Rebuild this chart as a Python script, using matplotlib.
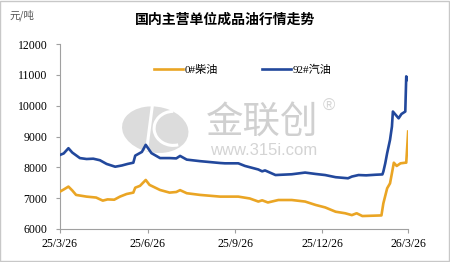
import numpy as np
import pandas as pd
import matplotlib
matplotlib.use('Agg')
import matplotlib.pyplot as plt
from matplotlib.patches import Rectangle, Ellipse, Arc

plt.rcParams['font.family'] = ['Liberation Serif', 'Noto Sans CJK SC']

# Days after 2025-03-26 and prices (yuan/ton)
gas_days = [0, 4, 9, 13, 21, 28, 35, 42, 49, 58, 65, 71, 77, 79, 86, 90, 96, 105,
            115, 122, 126, 133, 147, 168, 173, 187, 194, 208, 212, 215, 226, 243,
            257, 268, 278, 289, 302, 306, 313, 321, 331, 338, 339, 341, 343, 346,
            348, 349, 352, 355, 358, 362, 363, 365]
gas_vals = [8400, 8450, 8620, 8480, 8300, 8270, 8280, 8230, 8110, 8020, 8060, 8110,
            8150, 8380, 8500, 8730, 8460, 8300, 8300, 8290, 8370, 8250, 8200, 8140,
            8130, 8130, 8045, 7930, 7870, 7900, 7750, 7775, 7830, 7785, 7750, 7680,
            7645, 7700, 7750, 7740, 7760, 7770, 7860, 8130, 8460, 8890, 9320, 9810,
            9700, 9590, 9730, 9810, 10950, 10840]

diesel_days = [0, 4, 9, 13, 17, 28, 38, 45, 50, 57, 63, 70, 77, 79, 84, 90, 94, 105,
               115, 122, 126, 133, 147, 168, 187, 199, 208, 212, 218, 229, 243, 257,
               268, 278, 289, 299, 306, 311, 317, 337, 339, 343, 346, 348, 350, 353,
               357, 362, 363, 365]
diesel_vals = [7210, 7280, 7375, 7250, 7105, 7050, 7020, 6920, 6960, 6950, 7050, 7135,
               7180, 7340, 7400, 7590, 7430, 7265, 7180, 7200, 7260, 7160, 7105, 7050,
               7050, 6990, 6890, 6930, 6860, 6940, 6940, 6890, 6780, 6700, 6560, 6510,
               6450, 6510, 6420, 6440, 6830, 7320, 7480, 7810, 8150, 8045, 8130, 8150,
               8150, 9160]

tick_dates = ['2025-03-26', '2025-06-26', '2025-09-26', '2025-12-26', '2026-03-26']
tick_labels = ['25/3/26', '25/6/26', '25/9/26', '25/12/26', '26/3/26']

start = pd.Timestamp('2025-03-26')
gas_x = start + pd.to_timedelta(gas_days, unit='D')
diesel_x = start + pd.to_timedelta(diesel_days, unit='D')

fig = plt.figure(figsize=(4.5, 2.62), dpi=100)
ax = fig.add_axes([0.133, 0.126, 0.774, 0.706])
tf = fig.transFigure

# watermark (logo + brand text), drawn under the lines
ax.add_patch(Ellipse((0.345, 0.505), 0.145, 0.18, angle=15, transform=tf,
                     facecolor='#DCDCDC', edgecolor='none', zorder=0, clip_on=False))
ax.plot([0.338, 0.326], [0.59, 0.43], transform=tf, color='white', lw=2.2, zorder=0.5)
ax.add_patch(Arc((0.385, 0.51), 0.085, 0.13, theta1=90, theta2=280, transform=tf,
                 color='white', lw=2.2, zorder=0.5, clip_on=False))
ax.text(0.458, 0.535, '金联创', fontsize=27, color='#D0D0D0', family=['Noto Sans CJK SC'],
        ha='left', va='center', zorder=0, transform=tf)
ax.text(0.466, 0.427, 'www.315i.com', fontsize=12, color='#D4D4D4', family=['Liberation Sans'],
        ha='left', va='center', zorder=0, transform=tf)
ax.text(0.717, 0.595, '®', fontsize=12, color='#D4D4D4', family=['Liberation Sans'],
        ha='left', va='center', zorder=0, transform=tf)

ax.plot(diesel_x, diesel_vals, color='#EAA524', lw=1.9, label='0#柴油', zorder=3)
ax.plot(gas_x, gas_vals, color='#22489C', lw=1.9, label='92#汽油', zorder=3)

ax.set_xlim(start, pd.Timestamp('2026-03-26'))
ax.set_ylim(6000, 12000)
ax.set_yticks(range(6000, 12001, 1000))
ax.set_xticks(pd.to_datetime(tick_dates))
ax.set_xticklabels(tick_labels)
ax.tick_params(labelsize=8.5, color='#A0A0A0', length=3, width=0.8)
ax.tick_params(axis='y', pad=6)
for s in ['top', 'right']:
    ax.spines[s].set_visible(False)
for s in ['left', 'bottom']:
    ax.spines[s].set_color('#A0A0A0')
    ax.spines[s].set_linewidth(0.8)

ax.legend(loc='center', bbox_to_anchor=(0.525, 0.86), ncol=2, frameon=False,
          handlelength=2.6, columnspacing=4.0, handletextpad=0.1,
          prop={'family': ['Liberation Serif', 'Noto Sans CJK SC'], 'size': 8})

fig.text(0.5, 0.925, '国内主营单位成品油行情走势', ha='center', va='center',
         fontsize=10, fontweight='bold', family=['Noto Sans CJK SC'])
fig.text(0.02, 0.94, '元/吨', ha='left', va='center', fontsize=7.5,
         color='#555555', family=['Noto Sans CJK SC'])

fig.patches.append(Rectangle((0.001, 0.002), 0.997, 0.995, transform=tf,
                             fill=False, edgecolor='#C8C8C8', lw=1))

fig.savefig('out.png', dpi=100)
